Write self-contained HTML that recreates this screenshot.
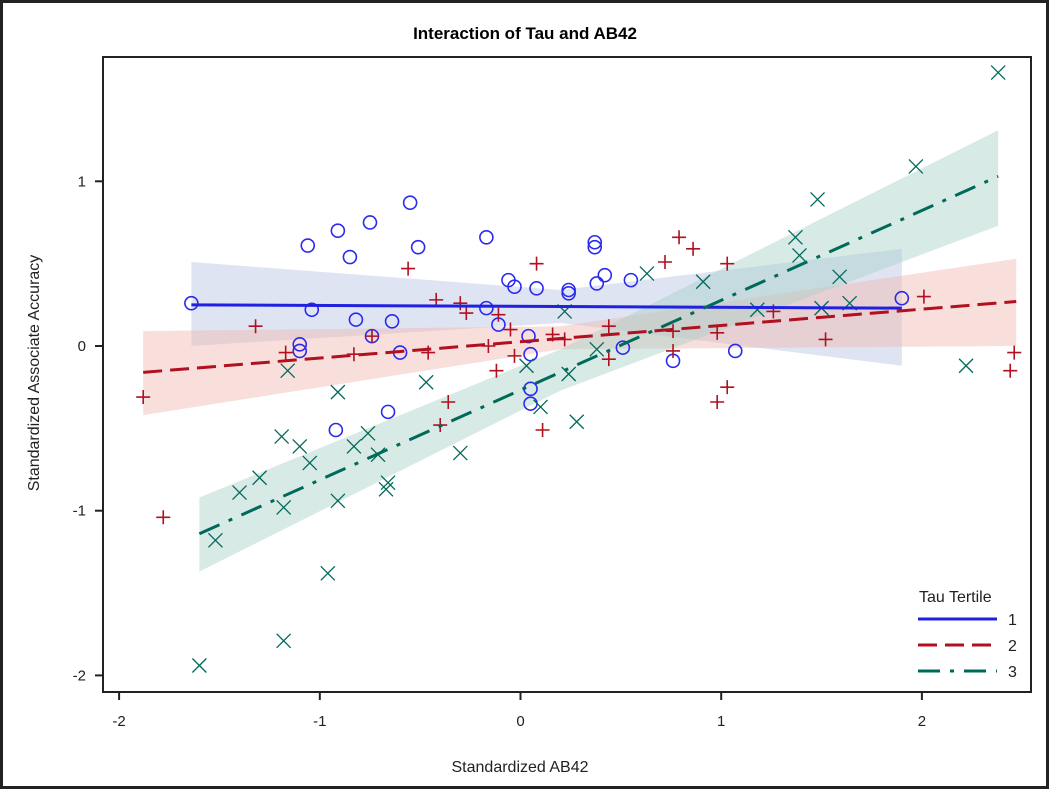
<!DOCTYPE html>
<html><head><meta charset="utf-8"><style>
body{margin:0;background:#fff}
svg{display:block;font-family:"Liberation Sans",Arial,sans-serif}
</style></head><body>
<svg id="chart" width="1050" height="790" xmlns="http://www.w3.org/2000/svg">
<rect x="1.5" y="1.5" width="1046" height="786" fill="#fff" stroke="#222" stroke-width="3"/>
<text x="525" y="39" text-anchor="middle" font-size="17" font-weight="bold">Interaction of Tau and AB42</text>
<g id="plot"></g>
<rect x="103" y="57" width="928" height="635" fill="none" stroke="#222" stroke-width="2"/>
<text x="520" y="772" text-anchor="middle" font-size="16" fill="#222">Standardized AB42</text>
<text transform="translate(39,373) rotate(-90)" text-anchor="middle" font-size="16" fill="#222">Standardized Associate Accuracy</text>
<g>
<text x="919" y="602" font-size="16" fill="#222">Tau Tertile</text>
<line x1="918" y1="619" x2="997" y2="619" stroke="#2020e0" stroke-width="3"/>
<text x="1008" y="625" font-size="16" fill="#222">1</text>
<line x1="918" y1="645" x2="992" y2="645" stroke="#b01020" stroke-width="3" stroke-dasharray="19,8"/>
<text x="1008" y="651" font-size="16" fill="#222">2</text>
<line x1="918" y1="671" x2="997" y2="671" stroke="#006a5a" stroke-width="3" stroke-dasharray="22,10,4,10"/>
<text x="1008" y="677" font-size="16" fill="#222">3</text>
</g>
</svg>
<script>
const xTicks=[-2,-1,0,1,2];
const yTicks=[-2,-1,0,1];
const blueX=[-1.64,-1.06,-0.91,-0.75,-0.55,-0.85,-0.51,-1.10,-1.10,-1.04,-0.82,-0.64,-0.74,-0.60,-0.66,-0.92,-0.17,0.37,0.37,-0.06,-0.03,0.08,0.24,0.24,0.42,0.38,0.55,-0.17,-0.11,0.04,0.05,0.05,0.05,0.51,0.76,1.07,1.90];
const blueY=[0.26,0.61,0.70,0.75,0.87,0.54,0.60,0.01,-0.03,0.22,0.16,0.15,0.06,-0.04,-0.40,-0.51,0.66,0.63,0.60,0.40,0.36,0.35,0.34,0.32,0.43,0.38,0.40,0.23,0.13,0.06,-0.05,-0.26,-0.35,-0.01,-0.09,-0.03,0.29];
const redX=[-1.88,-1.78,-1.32,-0.56,-0.42,-1.17,-0.83,-0.74,-0.46,-0.36,-0.40,0.08,-0.30,-0.27,-0.11,-0.05,-0.16,-0.03,-0.12,0.11,0.16,0.22,0.44,0.44,0.79,0.86,0.72,1.03,0.76,0.76,0.98,1.03,0.98,1.26,1.52,2.01,2.46,2.44];
const redY=[-0.31,-1.04,0.12,0.47,0.28,-0.04,-0.05,0.06,-0.04,-0.34,-0.48,0.50,0.26,0.20,0.19,0.10,0.00,-0.06,-0.15,-0.51,0.07,0.04,0.12,-0.08,0.66,0.59,0.51,0.50,0.09,-0.03,0.08,-0.25,-0.34,0.21,0.04,0.30,-0.04,-0.15];
const greenX=[2.38,1.97,1.48,1.37,1.39,1.59,1.64,1.18,1.50,2.22,0.63,0.91,0.22,0.38,0.03,0.24,0.10,0.28,-0.30,-1.16,-0.91,-0.47,-1.19,-1.10,-0.76,-0.83,-1.30,-1.40,-1.52,-1.18,-0.91,-1.05,-0.71,-0.66,-0.67,-0.96,-1.18,-1.60];
const greenY=[1.66,1.09,0.89,0.66,0.55,0.42,0.26,0.22,0.23,-0.12,0.44,0.39,0.21,-0.02,-0.12,-0.17,-0.37,-0.46,-0.65,-0.15,-0.28,-0.22,-0.55,-0.61,-0.53,-0.61,-0.80,-0.89,-1.18,-0.98,-0.94,-0.71,-0.66,-0.83,-0.87,-1.38,-1.79,-1.94];
const fitBlueX=[-1.64,1.90], fitBlueY=[0.25,0.23];
const fitRedX=[-1.88,2.47], fitRedY=[-0.16,0.27];
const fitGreenX=[-1.60,2.38], fitGreenY=[-1.14,1.03];
const bandBlueX=[-1.64,0.2,1.90], bandBlueHi=[0.51,0.34,0.59], bandBlueLo=[0.0,0.14,-0.12];
const bandRedX=[-1.88,0.2,2.47], bandRedHi=[0.09,0.12,0.53], bandRedLo=[-0.42,-0.02,0.0];
const bandGreenX=[-1.60,0.2,2.38], bandGreenHi=[-0.92,-0.02,1.31], bandGreenLo=[-1.37,-0.27,0.73];

const NS='http://www.w3.org/2000/svg';
const sx=v=>520.5+v*200.7;
const sy=v=>346-v*164.7;
const plot=document.getElementById('plot');
function mk(tag,attrs){const e=document.createElementNS(NS,tag);for(const k in attrs)e.setAttribute(k,attrs[k]);plot.appendChild(e);return e;}

function band(xs,hi,lo,fill,name){
  const pts=xs.map((x,i)=>sx(x)+','+sy(hi[i])).concat(xs.slice().reverse().map((x,i)=>sx(x)+','+sy(lo[xs.length-1-i])));
  const p=mk('polygon',{points:pts.join(' '),fill:fill,'fill-opacity':0.45});
  
  
}
band(bandBlueX,bandBlueHi,bandBlueLo,'#b8c4e4','band-tertile-1');
band(bandRedX,bandRedHi,bandRedLo,'#f0b8b0','band-tertile-2');
band(bandGreenX,bandGreenHi,bandGreenLo,'#a8d0c8','band-tertile-3');

xTicks.forEach(t=>{
  const l=mk('line',{x1:sx(t),x2:sx(t),y1:692,y2:700,stroke:'#222','stroke-width':2});
  
  
  const tx=mk('text',{x:sx(t),y:726,'text-anchor':'middle','font-size':15,fill:'#222'});
  tx.textContent=t;
  
  
});
yTicks.forEach(t=>{
  const l=mk('line',{x1:95,x2:103,y1:sy(t),y2:sy(t),stroke:'#222','stroke-width':2});
  
  
  const tx=mk('text',{x:86,y:sy(t)+5,'text-anchor':'end','font-size':15,fill:'#222'});
  tx.textContent=t;
  
  
});

blueX.forEach((x,i)=>{
  const c=mk('circle',{cx:sx(x),cy:sy(blueY[i]),r:6.5,fill:'none',stroke:'#2a2aee','stroke-width':1.6});
  
  
});
redX.forEach((x,i)=>{
  const X=sx(x),Y=sy(redY[i]);
  const p=mk('path',{d:`M${X-7},${Y}H${X+7}M${X},${Y-7}V${Y+7}`,stroke:'#b01020','stroke-width':1.6,fill:'none'});
  
  
});
greenX.forEach((x,i)=>{
  const X=sx(x),Y=sy(greenY[i]);
  const p=mk('path',{d:`M${X-7},${Y-7}L${X+7},${Y+7}M${X-7},${Y+7}L${X+7},${Y-7}`,stroke:'#006a5a','stroke-width':1.3,fill:'none'});
  
  
});

function fit(xs,ys,color,dash,name){
  const l=mk('line',{x1:sx(xs[0]),y1:sy(ys[0]),x2:sx(xs[1]),y2:sy(ys[1]),stroke:color,'stroke-width':3,'stroke-dasharray':dash});
  
  
}
fit(fitBlueX,fitBlueY,'#2020e0','none','fit-line-tertile-1');
fit(fitRedX,fitRedY,'#b01020','19,8','fit-line-tertile-2');
fit(fitGreenX,fitGreenY,'#006a5a','22,10,4,10','fit-line-tertile-3');
</script>
</body></html>
